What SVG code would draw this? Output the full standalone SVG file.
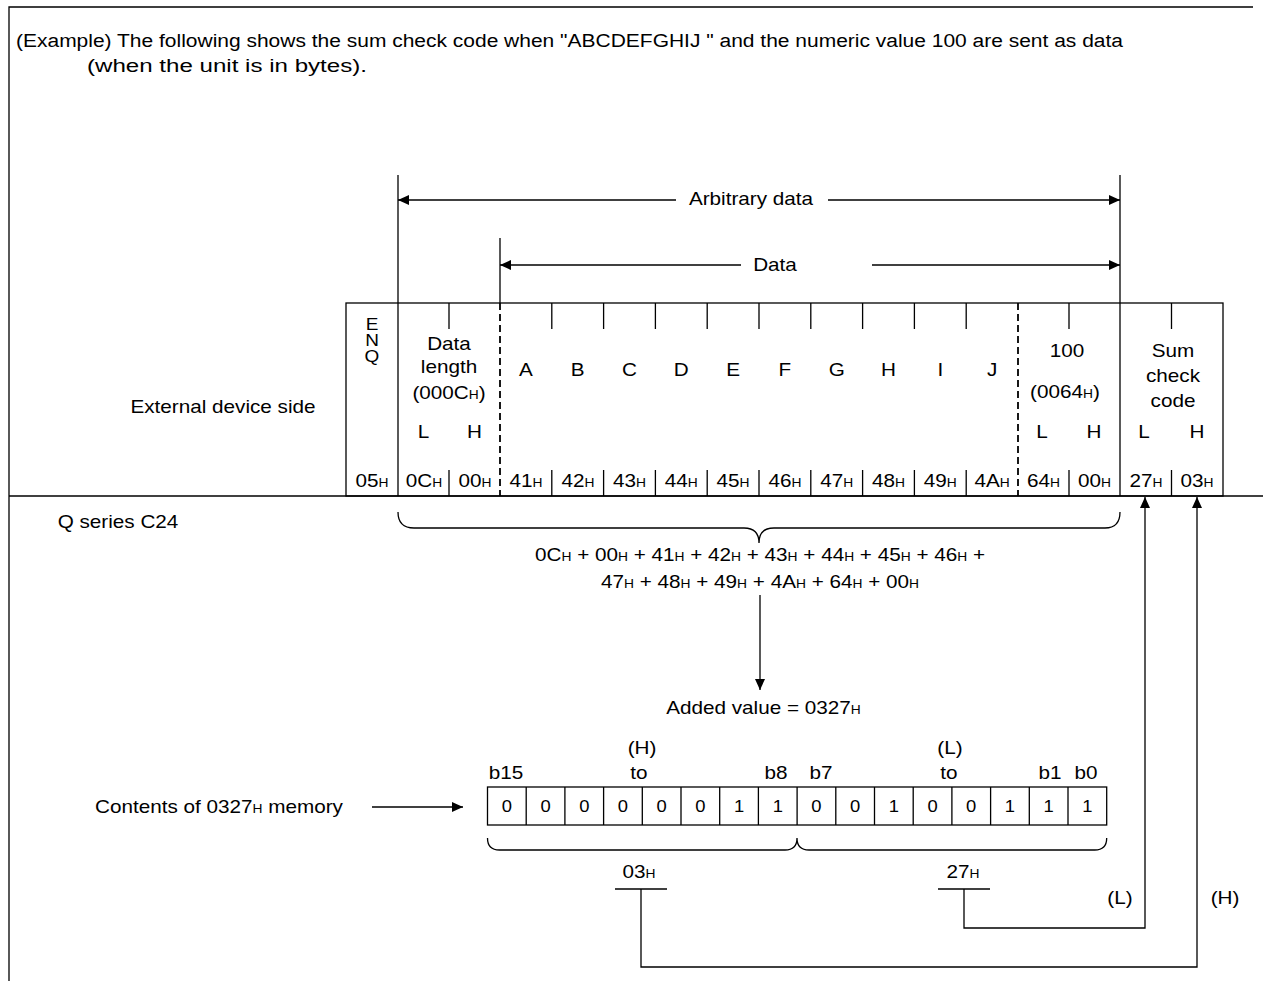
<svg xmlns="http://www.w3.org/2000/svg" width="1263" height="981" viewBox="0 0 1263 981">
<defs>
<marker id="ah" viewBox="0 0 11 10" refX="11" refY="5" markerWidth="11" markerHeight="10" markerUnits="userSpaceOnUse" orient="auto"><path d="M0,0 L11,5 L0,10 Z" fill="#000"/></marker>
</defs>
<style>
.ln{stroke:#000;stroke-width:1.3;fill:none}
.dash{stroke:#000;stroke-width:1.8;stroke-dasharray:7 4;fill:none}
text{font-family:"Liberation Sans",Arial,sans-serif;fill:#000}
.t{font-size:18px;text-anchor:middle;transform-box:fill-box;transform-origin:center;transform:scaleX(1.15)}
.b{font-size:16px}
.e{font-size:16.5px}
.s{font-size:12px}
.title{font-size:18px}
</style>
<rect x="0" y="0" width="1263" height="981" fill="#fff"/>
<path class="ln" d="M9,981 V7 H1253"/>
<line class="ln" x1="9" y1="496" x2="1263" y2="496"/>

<g id="title">
<text class="title" x="16" y="47" textLength="1107" lengthAdjust="spacingAndGlyphs">(Example) The following shows the sum check code when "ABCDEFGHIJ " and the numeric value 100 are sent as data</text>
<text class="title" x="87" y="72" textLength="280" lengthAdjust="spacingAndGlyphs">(when the unit is in bytes).</text>
</g>

<g id="side-labels">
<text class="t" x="223" y="413">External device side</text>
<text class="t" x="118" y="528">Q series C24</text>
</g>

<g id="dimension-labels">
<text class="t" x="751" y="205">Arbitrary data</text>
<text class="t" x="775" y="271">Data</text>
</g>

<g id="frame-table">
<rect class="ln" x="346" y="303" width="877" height="193"/>
<line class="ln" x1="398" y1="303" x2="398" y2="496"/>
<line class="ln" x1="1120" y1="303" x2="1120" y2="496"/>
<line class="dash" x1="500" y1="303" x2="500" y2="496"/>
<line class="dash" x1="1018" y1="303" x2="1018" y2="496"/>
<path class="ln" d="M449,303V329M449,470V496M551.8,303V329M551.8,470V496M603.6,303V329M603.6,470V496M655.4,303V329M655.4,470V496M707.2,303V329M707.2,470V496M759,303V329M759,470V496M810.8,303V329M810.8,470V496M862.6,303V329M862.6,470V496M914.4,303V329M914.4,470V496M966.2,303V329M966.2,470V496M1069,303V329M1069,470V496M1171.5,303V329M1171.5,470V496"/>
</g>

<g id="enq">
<text class="t e"><tspan x="372" y="330">E</tspan><tspan x="372" y="346">N</tspan><tspan x="372" y="362">Q</tspan></text>
<text class="t" x="372" y="487">05<tspan class="s">H</tspan></text>
</g>

<g id="data-length">
<text class="t" x="449" y="350">Data</text>
<text class="t" x="449" y="373">length</text>
<text class="t" x="449" y="399">(000C<tspan class="s">H</tspan>)</text>
<text class="t" x="423.5" y="438">L</text>
<text class="t" x="474.5" y="438">H</text>
<text class="t" x="424" y="487">0C<tspan class="s">H</tspan></text>
<text class="t" x="475" y="487">00<tspan class="s">H</tspan></text>
</g>

<g id="data-chars">
<text class="t" x="525.9" y="376">A</text>
<text class="t" x="577.7" y="376">B</text>
<text class="t" x="629.5" y="376">C</text>
<text class="t" x="681.3" y="376">D</text>
<text class="t" x="733.1" y="376">E</text>
<text class="t" x="784.9" y="376">F</text>
<text class="t" x="836.7" y="376">G</text>
<text class="t" x="888.5" y="376">H</text>
<text class="t" x="940.3" y="376">I</text>
<text class="t" x="992.1" y="376">J</text>
<text class="t" x="526" y="487">41<tspan class="s">H</tspan></text>
<text class="t" x="578" y="487">42<tspan class="s">H</tspan></text>
<text class="t" x="629.5" y="487">43<tspan class="s">H</tspan></text>
<text class="t" x="681.3" y="487">44<tspan class="s">H</tspan></text>
<text class="t" x="733" y="487">45<tspan class="s">H</tspan></text>
<text class="t" x="785" y="487">46<tspan class="s">H</tspan></text>
<text class="t" x="836.7" y="487">47<tspan class="s">H</tspan></text>
<text class="t" x="888.5" y="487">48<tspan class="s">H</tspan></text>
<text class="t" x="940.3" y="487">49<tspan class="s">H</tspan></text>
<text class="t" x="992.1" y="487">4A<tspan class="s">H</tspan></text>
</g>

<g id="numeric-value">
<text class="t" x="1067" y="357">100</text>
<text class="t" x="1065" y="398">(0064<tspan class="s">H</tspan>)</text>
<text class="t" x="1042" y="438">L</text>
<text class="t" x="1094" y="438">H</text>
<text class="t" x="1043.5" y="487">64<tspan class="s">H</tspan></text>
<text class="t" x="1094.5" y="487">00<tspan class="s">H</tspan></text>
</g>

<g id="sum-check">
<text class="t" x="1173" y="357">Sum</text>
<text class="t" x="1173" y="382">check</text>
<text class="t" x="1173" y="407">code</text>
<text class="t" x="1144" y="438">L</text>
<text class="t" x="1197" y="438">H</text>
<text class="t" x="1146" y="487">27<tspan class="s">H</tspan></text>
<text class="t" x="1197" y="487">03<tspan class="s">H</tspan></text>
</g>

<g id="formula">
<text class="t" x="760" y="561">0C<tspan class="s">H</tspan> + 00<tspan class="s">H</tspan> + 41<tspan class="s">H</tspan> + 42<tspan class="s">H</tspan> + 43<tspan class="s">H</tspan> + 44<tspan class="s">H</tspan> + 45<tspan class="s">H</tspan> + 46<tspan class="s">H</tspan> +</text>
<text class="t" x="760" y="588">47<tspan class="s">H</tspan> + 48<tspan class="s">H</tspan> + 49<tspan class="s">H</tspan> + 4A<tspan class="s">H</tspan> + 64<tspan class="s">H</tspan> + 00<tspan class="s">H</tspan></text>
</g>

<g id="added-value">
<text class="t" x="763.5" y="714">Added value = 0327<tspan class="s">H</tspan></text>
</g>

<g id="memory-label">
<text class="t" x="219" y="813">Contents of 0327<tspan class="s">H</tspan> memory</text>
</g>

<g id="bit-table">
<text class="t" x="642" y="754">(H)</text>
<text class="t" x="639" y="779">to</text>
<text class="t" x="506" y="779">b15</text>
<text class="t" x="776" y="779">b8</text>
<text class="t" x="821" y="779">b7</text>
<text class="t" x="950" y="754">(L)</text>
<text class="t" x="949" y="779">to</text>
<text class="t" x="1050" y="779">b1</text>
<text class="t" x="1086" y="779">b0</text>
<rect class="ln" x="487.5" y="787" width="619.2" height="38"/>
<path class="ln" d="M526.2,787V825M564.9,787V825M603.6,787V825M642.3,787V825M681,787V825M719.7,787V825M758.4,787V825M797.1,787V825M835.8,787V825M874.5,787V825M913.2,787V825M951.9,787V825M990.6,787V825M1029.3,787V825M1068,787V825"/>
<text class="t b" x="506.85" y="812">0</text>
<text class="t b" x="545.55" y="812">0</text>
<text class="t b" x="584.25" y="812">0</text>
<text class="t b" x="622.95" y="812">0</text>
<text class="t b" x="661.65" y="812">0</text>
<text class="t b" x="700.35" y="812">0</text>
<text class="t b" x="739.05" y="812">1</text>
<text class="t b" x="777.75" y="812">1</text>
<text class="t b" x="816.45" y="812">0</text>
<text class="t b" x="855.15" y="812">0</text>
<text class="t b" x="893.85" y="812">1</text>
<text class="t b" x="932.55" y="812">0</text>
<text class="t b" x="971.25" y="812">0</text>
<text class="t b" x="1009.95" y="812">1</text>
<text class="t b" x="1048.65" y="812">1</text>
<text class="t b" x="1087.35" y="812">1</text>
</g>

<g id="byte-labels">
<text class="t" x="639" y="878">03<tspan class="s">H</tspan></text>
<text class="t" x="963" y="878">27<tspan class="s">H</tspan></text>
<text class="t" x="1120" y="904">(L)</text>
<text class="t" x="1225" y="904">(H)</text>
</g>

<g id="connectors">
<line class="ln" x1="398" y1="175" x2="398" y2="303"/>
<line class="ln" x1="1120" y1="175" x2="1120" y2="303"/>
<line class="ln" x1="500" y1="238" x2="500" y2="303"/>
<line class="ln" x1="676" y1="200" x2="398" y2="200" marker-end="url(#ah)"/>
<line class="ln" x1="828" y1="200" x2="1120" y2="200" marker-end="url(#ah)"/>
<line class="ln" x1="741" y1="265" x2="500" y2="265" marker-end="url(#ah)"/>
<line class="ln" x1="872" y1="265" x2="1120" y2="265" marker-end="url(#ah)"/>
<path class="ln" d="M398,512 Q398,528 414,528 L744,528 Q759,528 759,543 Q759,528 774,528 L1105,528 Q1120,528 1120,512"/>
<line class="ln" x1="760" y1="595" x2="760" y2="690" marker-end="url(#ah)"/>
<line class="ln" x1="372" y1="807" x2="463" y2="807" marker-end="url(#ah)"/>
<path class="ln" d="M487.5,838 Q487.5,850 499.5,850 L785,850 Q797,850 797,838 Q797,850 809,850 L1094.7,850 Q1106.7,850 1106.7,838"/>
<line class="ln" x1="615" y1="889" x2="667" y2="889"/>
<line class="ln" x1="938" y1="889" x2="990" y2="889"/>
<path class="ln" d="M964,889 V928 H1145 V497" marker-end="url(#ah)"/>
<path class="ln" d="M641,889 V967 H1197 V497" marker-end="url(#ah)"/>
</g>
</svg>
